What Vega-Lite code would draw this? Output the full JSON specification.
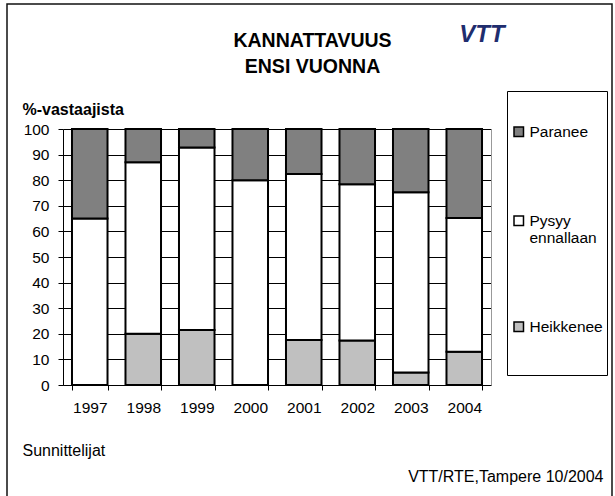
{
  "$schema": "https://vega.github.io/schema/vega-lite/v6.json",
  "width": 605,
  "height": 495,
  "autosize": {"type": "none"},
  "padding": {"left": 7, "top": 4, "right": 3, "bottom": 0},
  "background": "white",
  "title": {
    "text": ["KANNATTAVUUS", "ENSI VUONNA"],
    "frame": "group",
    "anchor": "middle",
    "offset": -73,
    "dx": 3,
    "baseline": "top",
    "fontSize": 19.5,
    "lineHeight": 26,
    "font": "Liberation Sans",
    "fontWeight": "bold",
    "color": "#000"
  },
  "config": {
    "font": "Liberation Sans",
    "view": {"stroke": "#111", "strokeWidth": 1.5},
    "axis": {
      "labelFont": "Liberation Sans",
      "titleFont": "Liberation Sans",
      "labelColor": "#000",
      "titleColor": "#000"
    },
    "legend": {"labelFont": "Liberation Sans", "titleFont": "Liberation Sans"}
  },
  "resolve": {"axis": {"x": "independent", "y": "independent"}},
  "layer": [
    {
      "data": {
        "values": [
          {"year": "1997", "category": "Heikkenee", "value": 0, "ord": 1},
          {"year": "1997", "category": "Pysyy ennallaan", "value": 65, "ord": 2},
          {"year": "1997", "category": "Paranee", "value": 35, "ord": 3},
          {"year": "1998", "category": "Heikkenee", "value": 20, "ord": 1},
          {"year": "1998", "category": "Pysyy ennallaan", "value": 67, "ord": 2},
          {"year": "1998", "category": "Paranee", "value": 13, "ord": 3},
          {"year": "1999", "category": "Heikkenee", "value": 21.5, "ord": 1},
          {"year": "1999", "category": "Pysyy ennallaan", "value": 71.3, "ord": 2},
          {"year": "1999", "category": "Paranee", "value": 7.2, "ord": 3},
          {"year": "2000", "category": "Heikkenee", "value": 0, "ord": 1},
          {"year": "2000", "category": "Pysyy ennallaan", "value": 80, "ord": 2},
          {"year": "2000", "category": "Paranee", "value": 20, "ord": 3},
          {"year": "2001", "category": "Heikkenee", "value": 17.6, "ord": 1},
          {"year": "2001", "category": "Pysyy ennallaan", "value": 64.8, "ord": 2},
          {"year": "2001", "category": "Paranee", "value": 17.6, "ord": 3},
          {"year": "2002", "category": "Heikkenee", "value": 17.4, "ord": 1},
          {"year": "2002", "category": "Pysyy ennallaan", "value": 61, "ord": 2},
          {"year": "2002", "category": "Paranee", "value": 21.6, "ord": 3},
          {"year": "2003", "category": "Heikkenee", "value": 4.9, "ord": 1},
          {"year": "2003", "category": "Pysyy ennallaan", "value": 70.4, "ord": 2},
          {"year": "2003", "category": "Paranee", "value": 24.7, "ord": 3},
          {"year": "2004", "category": "Heikkenee", "value": 13, "ord": 1},
          {"year": "2004", "category": "Pysyy ennallaan", "value": 52.2, "ord": 2},
          {"year": "2004", "category": "Paranee", "value": 34.8, "ord": 3}
        ]
      },
      "mark": {"type": "bar", "stroke": "#000", "strokeWidth": 2},
      "encoding": {
        "x": {
          "field": "year",
          "type": "nominal",
          "scale": {"range": [56, 484], "paddingInner": 0.336, "paddingOuter": 0.168},
          "axis": {
            "orient": "bottom",
            "offset": -114,
            "tickBand": "extent",
            "grid": false,
            "domainColor": "#000",
            "domainWidth": 1,
            "tickColor": "#000",
            "tickSize": 5,
            "labelPadding": 10,
            "labelFontSize": 15.5,
            "labelAngle": 0,
            "title": "Sunnittelijat",
            "titleX": 15,
            "titleY": 70,
            "titleAlign": "left",
            "titleAnchor": "start",
            "titleBaseline": "alphabetic",
            "titleFontSize": 16,
            "titleFontWeight": "normal"
          }
        },
        "y": {
          "field": "value",
          "type": "quantitative",
          "stack": "zero",
          "scale": {"domain": [0, 100], "range": [381, 125], "nice": false},
          "axis": {
            "orient": "left",
            "offset": -56,
            "values": [0, 10, 20, 30, 40, 50, 60, 70, 80, 90, 100],
            "grid": true,
            "gridColor": "#000",
            "gridWidth": 1,
            "domainColor": "#000",
            "domainWidth": 1,
            "tickColor": "#000",
            "tickSize": 5,
            "labelPadding": 9,
            "labelFontSize": 15.5,
            "title": "%-vastaajista",
            "titleAngle": 0,
            "titleAlign": "left",
            "titleBaseline": "alphabetic",
            "titleX": -41,
            "titleY": 110,
            "titleFontSize": 16,
            "titleFontWeight": "bold"
          }
        },
        "color": {
          "field": "category",
          "type": "nominal",
          "scale": {
            "domain": ["Paranee", "Pysyy ennallaan", "Heikkenee"],
            "range": ["#808080", "#ffffff", "#c0c0c0"]
          },
          "legend": {
            "orient": "none",
            "legendX": 500,
            "legendY": 87,
            "title": " ",
            "titleFontSize": 10,
            "titlePadding": 19,
            "padding": 4,
            "strokeColor": "#000",
            "fillColor": "#fff",
            "symbolType": "square",
            "symbolSize": 90,
            "symbolStrokeColor": "#000",
            "symbolStrokeWidth": 1.5,
            "labelFontSize": 15.5,
            "labelLineHeight": 18,
            "labelColor": "#000",
            "labelOffset": 3,
            "labelLimit": 200,
            "rowPadding": 72,
            "labelExpr": "datum.label == 'Pysyy ennallaan' ? ['Pysyy', 'ennallaan'] : datum.label == 'Heikkenee' ? ['Heikkenee', ' ', ' '] : datum.label"
          }
        },
        "order": {"field": "ord", "type": "quantitative"}
      }
    },
    {
      "data": {"values": [{"logo": "VTT"}]},
      "mark": {
        "type": "text",
        "font": "Liberation Sans",
        "fontWeight": "bold",
        "fontStyle": "italic",
        "fontSize": 24,
        "color": "#1f2d6e",
        "align": "center",
        "baseline": "alphabetic"
      },
      "encoding": {
        "x": {
          "datum": "2004",
          "type": "nominal",
          "bandPosition": 1,
          "axis": {
            "orient": "bottom",
            "offset": -114,
            "labels": false,
            "ticks": false,
            "domain": false,
            "grid": false,
            "title": "VTT/RTE,Tampere 10/2004",
            "titleX": 596,
            "titleY": 96,
            "titleAlign": "right",
            "titleAnchor": "end",
            "titleBaseline": "alphabetic",
            "titleFontSize": 16,
            "titleFontWeight": "normal"
          }
        },
        "y": {
          "datum": 134,
          "type": "quantitative",
          "scale": {"domain": [0, 100], "range": [381, 125], "nice": false},
          "axis": {
            "orient": "right",
            "offset": -121,
            "labels": false,
            "ticks": false,
            "grid": false,
            "domainColor": "#999",
            "domainWidth": 1,
            "title": null
          }
        },
        "text": {"field": "logo"}
      }
    }
  ]
}
